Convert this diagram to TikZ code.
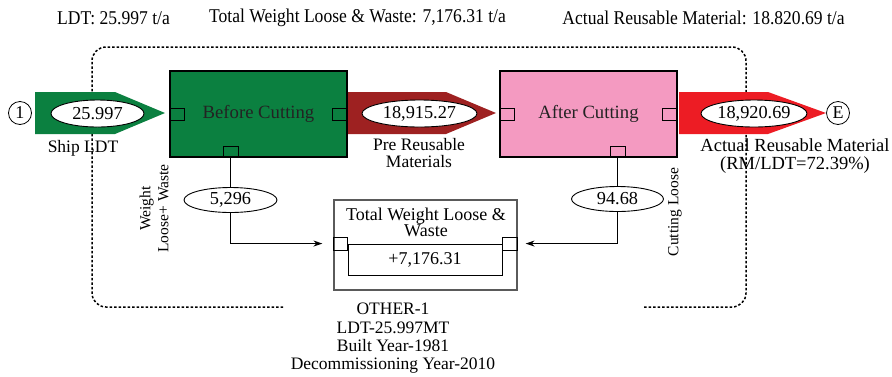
\documentclass[tikz,border=0pt]{standalone}
\usepackage{fontspec}
\setmainfont{Liberation Serif}
\usetikzlibrary{arrows.meta,shapes.geometric}
\definecolor{shipgreen}{RGB}{11,128,64}
\definecolor{prered}{RGB}{158,33,33}
\definecolor{afterpink}{RGB}{244,154,193}
\definecolor{actred}{RGB}{237,28,36}
\definecolor{boxgrey}{RGB}{90,90,90}
\definecolor{inktext}{RGB}{35,35,35}
\tikzset{
  txt/.style={font=\fontsize{17.5}{18}\selectfont, inner sep=0pt, align=center},
  headtxt/.style={font=\fontsize{19.5}{20}\selectfont, inner sep=0pt, xscale=0.9},
  sidetxt/.style={font=\fontsize{15.5}{18}\selectfont, inner sep=0pt, align=center, rotate=90},
  endpt/.style={draw, circle, line width=0.8pt, minimum size=23pt, inner sep=0pt,
    font=\fontsize{18}{18}\selectfont},
  valoval/.style={draw, ellipse, fill=white, line width=0.9pt, inner sep=0pt,
    font=\fontsize{18.3}{18}\selectfont},
  procbox/.style={draw, line width=1.4pt, minimum width=177pt, minimum height=86pt,
    inner sep=0pt, text=inktext, font=\fontsize{18.7}{18}\selectfont},
  port/.style={draw, line width=0.9pt, minimum width=15pt, minimum height=12pt,
    inner sep=0pt, outer sep=0pt},
  frame/.style={line width=1.5pt, dash pattern=on 2.5pt off 2pt, rounded corners=14pt},
  link/.style={line width=0.9pt},
  linkarrow/.style={line width=0.9pt, -{Stealth[length=9pt,width=6pt]}}
}
\begin{document}
\begin{tikzpicture}[x=1pt,y=-1pt]
\useasboundingbox (0,0) rectangle (892,376);

% headline figures
\node[headtxt] (hldt) at (113.5,18) {LDT: 25.997 t/a};
\node[headtxt] (htot) at (357.5,18) {Total Weight Loose \& Waste: 7,176.31 t/a};
\node[headtxt] (hact) at (703.5,18) {Actual Reusable Material: 18.820.69 t/a};

% system boundary
\coordinate (fa) at (283,307);
\coordinate (fb) at (92,307);
\coordinate (fc) at (92,47);
\coordinate (fd) at (746,47);
\coordinate (fe) at (746,307);
\coordinate (ff) at (643,307);
\draw[frame] (fa) -- (fb) -- (fc) -- (fd) -- (fe) -- (ff);

% flow arrows
\fill[shipgreen] (35,92) -- (115,92) -- (165,113) -- (115,134) -- (35,134) -- cycle;
\fill[prered] (346,92) -- (446,92) -- (496,113) -- (446,134) -- (346,134) -- cycle;
\fill[actred] (679,92) -- (768,92) -- (826,113) -- (768,134) -- (679,134) -- cycle;

% process boxes
\node[procbox, fill=shipgreen] (before) at (258.5,114) {Before Cutting};
\node[procbox, fill=afterpink] (after) at (588.5,114) {After Cutting};

% loss values (placed first so the bottom ports line up with them)
\node[valoval, minimum width=93pt, minimum height=25pt] (w1) at (230.5,200) {5,296};
\node[valoval, minimum width=92pt, minimum height=25pt] (w2) at (617.5,199) {94.68};

\node[port, anchor=west] (bin) at (before.west) {};
\node[port, anchor=east] (bout) at (before.east) {};
\node[port, anchor=south, minimum height=11pt] (bdown) at (w1 |- before.south) {};
\node[port, anchor=west] (ain) at (after.west) {};
\node[port, anchor=east] (aout) at (after.east) {};
\node[port, anchor=south, minimum height=11pt] (adown) at (w2 |- after.south) {};

% end points
\node[endpt] (start) at (20,113) {1};
\node[endpt] (stop) at (838,113) {E};

% flow values
\node[valoval, minimum width=93pt, minimum height=27pt] (v1) at (97.5,113.5) {25.997};
\node[valoval, minimum width=115pt, minimum height=27pt] (v2) at (419.5,113.5) {18,915.27};
\node[valoval, minimum width=106pt, minimum height=27pt] (v3) at (754,113.5) {18,920.69};

\node[txt] (lship) at (83,148) {Ship LDT};
\node[txt, font=\fontsize{17.5}{17}\selectfont] (lpre) at (419,153.5) {Pre Reusable\\Materials};
\node[txt, font=\fontsize{18.5}{18}\selectfont] (lact) at (795,156) {Actual Reusable Material\\(RM/LDT=72.39\%)};

% loose and waste collector
\node[draw=boxgrey, line width=1.2pt, minimum width=183pt, minimum height=90pt, inner sep=0pt] (tot) at (425.5,245) {};
\node[txt, font=\fontsize{18}{11.5}\selectfont] (tottitle) at (426,222.5) {Total Weight Loose \&\\Waste};
\node[draw, line width=0.9pt, minimum width=154pt, minimum height=31pt, inner sep=0pt,
  font=\fontsize{18}{18}\selectfont] (inner) at (425,259.5) {+7,176.31};
\node[port, anchor=west, minimum width=14pt, minimum height=13pt] (tin) at (tot.west |- inner.north) {};
\node[port, anchor=east, minimum width=15pt, minimum height=13pt] (tin2) at (tot.east |- inner.north) {};

% loss streams
\draw[link] (bdown.south) -- (w1.north);
\draw[link] (adown.south) -- (w2.north);
\draw[linkarrow, shorten >=11pt] (w1.south) |- (tin.west);
\draw[linkarrow, shorten >=8pt] (w2.south) |- (tin2.east);

\node[sidetxt] (lw1) at (154,208.5) {Weight\\Loose+ Waste};
\node[sidetxt] (lw2) at (675,212) {Cutting Loose};

% ship data
\node[txt, font=\fontsize{17.5}{18.3}\selectfont] (ship) at (393,338.5) {OTHER-1\\LDT-25.997MT\\Built Year-1981\\Decommissioning Year-2010};
\end{tikzpicture}
\end{document}
